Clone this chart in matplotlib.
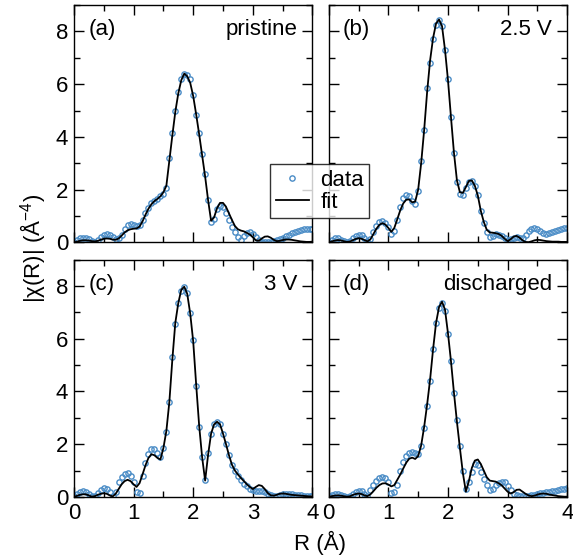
import numpy as np
import matplotlib
matplotlib.use("Agg")
import matplotlib.pyplot as plt
from matplotlib.ticker import MultipleLocator

plt.rcParams['font.family'] = ['Liberation Sans', 'DejaVu Sans']
plt.rcParams['mathtext.default'] = 'regular'

# R grid (Angstrom), 0.05 step
R = np.linspace(0.0, 4.0, 81)

# (a) pristine
data_a = [0.02, 0.10, 0.15, 0.17, 0.16, 0.12, 0.06, 0.03, 0.08, 0.20,
          0.30, 0.33, 0.30, 0.22, 0.14, 0.16, 0.30, 0.50, 0.65, 0.70,
          0.68, 0.62, 0.66, 0.85, 1.10, 1.32, 1.48, 1.58, 1.66, 1.76,
          1.85, 2.05, 3.20, 4.15, 5.00, 5.70, 6.20, 6.40, 6.35, 6.20,
          5.60, 4.85, 4.15, 3.37, 2.60, 1.60, 0.78, 0.90, 1.25, 1.39,
          1.33, 1.12, 0.85, 0.60, 0.40, 0.20, 0.10, 0.25, 0.35, 0.38,
          0.33, 0.20, 0.08, 0.02, 0.00, 0.00, 0.02, 0.05, 0.08, 0.12,
          0.17, 0.23, 0.30, 0.36, 0.41, 0.45, 0.48, 0.50, 0.52, 0.52,
          0.52]
fit_a = [0.00, 0.03, 0.06, 0.08, 0.08, 0.07, 0.05, 0.04, 0.06, 0.10,
         0.14, 0.15, 0.14, 0.11, 0.10, 0.15, 0.26, 0.38, 0.46, 0.50,
         0.52, 0.53, 0.60, 0.80, 1.05, 1.28, 1.45, 1.57, 1.65, 1.75,
         1.90, 2.15, 3.10, 4.05, 4.95, 5.65, 6.15, 6.40, 6.30, 6.05,
         5.55, 4.85, 4.10, 3.30, 2.50, 1.60, 0.82, 0.95, 1.30, 1.50,
         1.50, 1.35, 1.10, 0.85, 0.62, 0.50, 0.45, 0.42, 0.36, 0.30,
         0.20, 0.08, 0.06, 0.15, 0.22, 0.23, 0.18, 0.10, 0.05, 0.06,
         0.09, 0.11, 0.11, 0.10, 0.08, 0.06, 0.04, 0.03, 0.02, 0.02,
         0.03]

# (b) 2.5 V
data_b = [0.03, 0.10, 0.15, 0.15, 0.11, 0.05, 0.02, 0.06, 0.15, 0.25,
          0.29, 0.27, 0.18, 0.07, 0.12, 0.40, 0.62, 0.78, 0.83, 0.75,
          0.58, 0.33, 0.42, 0.85, 1.35, 1.68, 1.80, 1.76, 1.58, 1.45,
          1.95, 3.10, 4.27, 5.85, 6.80, 7.70, 8.25, 8.45, 8.20, 7.30,
          6.20, 4.75, 3.40, 2.30, 1.82, 1.80, 2.05, 2.30, 2.32, 2.15,
          1.80, 1.20, 0.75, 0.40, 0.22, 0.26, 0.33, 0.30, 0.23, 0.15,
          0.10, 0.12, 0.18, 0.20, 0.16, 0.16, 0.30, 0.43, 0.51, 0.54,
          0.50, 0.43, 0.36, 0.33, 0.34, 0.38, 0.43, 0.48, 0.52, 0.54,
          0.54]
fit_b = [0.00, 0.04, 0.07, 0.09, 0.08, 0.05, 0.02, 0.03, 0.08, 0.13,
         0.16, 0.14, 0.09, 0.04, 0.12, 0.32, 0.52, 0.67, 0.73, 0.68,
         0.55, 0.40, 0.55, 0.88, 1.22, 1.48, 1.62, 1.63, 1.52, 1.55,
         2.00, 3.00, 4.25, 5.70, 6.90, 7.75, 8.30, 8.45, 8.20, 7.30,
         6.15, 4.75, 3.40, 2.35, 1.90, 1.88, 2.10, 2.33, 2.35, 2.15,
         1.78, 1.20, 0.78, 0.48, 0.38, 0.37, 0.35, 0.32, 0.25, 0.14,
         0.05, 0.12, 0.22, 0.25, 0.18, 0.08, 0.02, 0.01, 0.04, 0.08,
         0.10, 0.09, 0.07, 0.05, 0.04, 0.03, 0.03, 0.03, 0.02, 0.02,
         0.02]

# (c) 3 V
data_c = [0.02, 0.10, 0.17, 0.21, 0.19, 0.11, 0.03, 0.04, 0.15, 0.27,
          0.33, 0.30, 0.18, 0.03, 0.20, 0.55, 0.75, 0.87, 0.89, 0.80,
          0.58, 0.20, 0.15, 0.80, 1.30, 1.62, 1.82, 1.80, 1.68, 1.52,
          1.85, 2.45, 3.60, 5.30, 6.55, 7.35, 7.80, 7.97, 7.75, 6.98,
          5.95, 4.20, 2.65, 1.50, 0.65, 1.65, 2.40, 2.75, 2.86, 2.78,
          2.40, 2.00, 1.60, 1.20, 0.98, 0.80, 0.65, 0.50, 0.40, 0.31,
          0.25, 0.23, 0.22, 0.21, 0.18, 0.12, 0.08, 0.05, 0.04, 0.08,
          0.12, 0.13, 0.12, 0.10, 0.08, 0.07, 0.06, 0.05, 0.04, 0.03,
          0.02]
fit_c = [0.00, 0.04, 0.08, 0.10, 0.10, 0.06, 0.01, 0.03, 0.08, 0.12,
         0.14, 0.12, 0.06, 0.02, 0.12, 0.30, 0.48, 0.60, 0.65, 0.60,
         0.48, 0.38, 0.52, 0.85, 1.20, 1.48, 1.62, 1.58, 1.48, 1.42,
         1.85, 2.50, 3.60, 5.20, 6.60, 7.35, 7.85, 7.97, 7.70, 6.95,
         5.90, 4.25, 2.70, 1.50, 0.62, 1.60, 2.40, 2.75, 2.85, 2.75,
         2.40, 2.00, 1.58, 1.22, 1.00, 0.85, 0.72, 0.60, 0.48, 0.38,
         0.30, 0.38, 0.45, 0.42, 0.30, 0.15, 0.06, 0.05, 0.08, 0.12,
         0.13, 0.12, 0.10, 0.08, 0.07, 0.06, 0.05, 0.04, 0.03, 0.02,
         0.02]

# (d) discharged
data_d = [0.03, 0.07, 0.10, 0.10, 0.08, 0.04, 0.01, 0.05, 0.13, 0.20,
          0.23, 0.21, 0.12, 0.04, 0.25, 0.45, 0.62, 0.72, 0.76, 0.70,
          0.55, 0.15, 0.20, 0.45, 1.00, 1.32, 1.55, 1.68, 1.71, 1.65,
          1.62, 1.95, 2.62, 3.45, 4.40, 5.60, 6.60, 7.15, 7.37, 7.05,
          6.16, 5.15, 3.94, 2.90, 1.95, 1.00, 0.30, 0.55, 0.95, 1.25,
          1.20, 0.95, 0.68, 0.45, 0.28, 0.32, 0.45, 0.52, 0.56, 0.55,
          0.42, 0.25, 0.13, 0.06, 0.03, 0.03, 0.04, 0.05, 0.06, 0.08,
          0.11, 0.14, 0.16, 0.18, 0.20, 0.22, 0.24, 0.27, 0.29, 0.32,
          0.35]
fit_d = [0.00, 0.03, 0.05, 0.06, 0.05, 0.03, 0.01, 0.02, 0.07, 0.11,
         0.13, 0.11, 0.06, 0.03, 0.10, 0.22, 0.35, 0.45, 0.51, 0.52,
         0.47, 0.40, 0.45, 0.65, 0.85, 1.08, 1.30, 1.45, 1.49, 1.44,
         1.55, 1.95, 2.65, 3.50, 4.45, 5.60, 6.60, 7.20, 7.40, 7.10,
         6.20, 5.15, 3.95, 2.85, 1.85, 0.90, 0.20, 0.60, 1.10, 1.38,
         1.42, 1.25, 1.00, 0.75, 0.62, 0.60, 0.58, 0.52, 0.44, 0.32,
         0.20, 0.13, 0.18, 0.27, 0.28, 0.20, 0.12, 0.06, 0.03, 0.05,
         0.09, 0.12, 0.13, 0.12, 0.09, 0.07, 0.05, 0.03, 0.02, 0.01,
         0.01]

panel_tags = ["(a)", "(b)", "(c)", "(d)"]
panel_names = ["pristine", "2.5 V", "3 V", "discharged"]
all_data = [data_a, data_b, data_c, data_d]
all_fit = [fit_a, fit_b, fit_c, fit_d]

blue = "#4a8cc6"
fs = 16

fig, axes = plt.subplots(2, 2, figsize=(5.73, 5.59), dpi=100)
plt.subplots_adjust(left=0.129, right=0.990, bottom=0.111, top=0.991,
                    wspace=0.068, hspace=0.072)

for i, ax in enumerate(axes.flat):
    ax.plot(R, all_data[i], 'o', mfc='none', mec=blue, ms=3.8, mew=1.0,
            label='data', zorder=2)
    ax.plot(R, all_fit[i], '-', color='black', lw=1.3, label='fit', zorder=3)
    ax.set_xlim(0, 4)
    ax.set_ylim(0, 9)
    ax.xaxis.set_major_locator(MultipleLocator(1))
    ax.xaxis.set_minor_locator(MultipleLocator(0.5))
    ax.yaxis.set_major_locator(MultipleLocator(2))
    ax.yaxis.set_minor_locator(MultipleLocator(1))
    ax.tick_params(which='both', direction='in', top=True, right=True,
                   labelsize=fs, width=1.0)
    ax.tick_params(which='major', length=7, pad=4)
    ax.tick_params(which='minor', length=4)
    for sp in ax.spines.values():
        sp.set_linewidth(1.0)
    if i < 2:
        ax.tick_params(labelbottom=False)
    if i % 2 == 1:
        ax.tick_params(labelleft=False)
    ax.text(0.06, 0.94, panel_tags[i], transform=ax.transAxes, fontsize=fs,
            ha='left', va='top')
    ax.text(0.935, 0.94, panel_names[i], transform=ax.transAxes, fontsize=fs,
            ha='right', va='top')

handles, labels = axes[0, 0].get_legend_handles_labels()
leg = fig.legend(handles, labels, loc='center', bbox_to_anchor=(0.558, 0.658),
                 fontsize=fs, frameon=True, fancybox=False, edgecolor='black',
                 handlelength=1.5, handletextpad=0.5, borderpad=0.25,
                 labelspacing=0.05, borderaxespad=0, markerscale=1.0)
leg.get_frame().set_linewidth(1.0)
leg.set_zorder(10)

fig.text(0.558, 0.008, "R (Å)", ha='center', va='bottom', fontsize=fs)
fig.text(0.058, 0.555, "|χ(R)| (Å$^{-4}$)", ha='center', va='center',
         rotation=90, fontsize=fs)

fig.savefig("out.png", dpi=100)
